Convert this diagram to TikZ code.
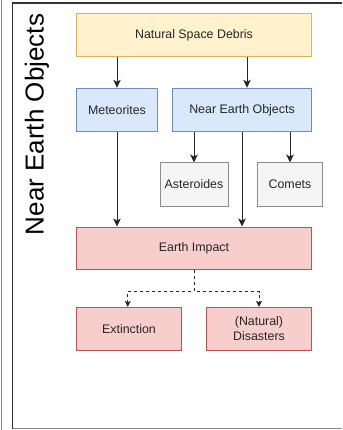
\documentclass[tikz,border=0pt]{standalone}
\usepackage{fontspec}
\setmainfont{Liberation Sans}
\usetikzlibrary{arrows.meta}
\definecolor{ylwF}{HTML}{FFF2CC}\definecolor{ylwD}{HTML}{D6B656}
\definecolor{bluF}{HTML}{DAE8FC}\definecolor{bluD}{HTML}{6C8EBF}
\definecolor{gryF}{HTML}{F5F5F5}\definecolor{gryD}{HTML}{8C8C8C}
\definecolor{redF}{HTML}{F8CECC}\definecolor{redD}{HTML}{B85450}
\definecolor{txt}{HTML}{262626}
\definecolor{frameA}{HTML}{8A8A8A}\definecolor{frameB}{HTML}{333333}
\begin{document}
\begin{tikzpicture}[x=1pt,y=-1pt,
  box/.style={draw, line width=1pt, inner sep=0pt, anchor=center, text=txt,
    font=\fontsize{12.4}{14.5}\selectfont, align=center},
  ybox/.style={box, fill=ylwF, draw=ylwD},
  bbox/.style={box, fill=bluF, draw=bluD},
  gbox/.style={box, fill=gryF, draw=gryD},
  rbox/.style={box, fill=redF, draw=redD},
  arr/.style={draw=black!85, line width=0.9pt, -{Stealth[length=8pt,width=7.5pt,inset=2pt]}},
  darr/.style={draw=black!85, line width=0.9pt, dash pattern=on 3pt off 3pt, -{Stealth[length=6pt,width=6pt,inset=1.5pt]}}]
\useasboundingbox (0,0) rectangle (342,430);
% frame
\draw[frameA, line width=1.6pt] (1.5,0) -- (1.5,430);
\draw[frameB, line width=1.5pt] (342,2.8) -- (12.6,2.8) -- (12.6,428.6);
\draw[frameA, line width=1.5pt] (12.6,428.6) -- (342,428.6);
\node[rotate=90, font=\fontsize{26}{30}\selectfont, text=black, inner sep=0pt] (title) at (37,124.5) {Near Earth Objects};
% boxes
\node[ybox, minimum width=235.4pt, minimum height=42.6pt] (nsd) at (194,35) {Natural Space Debris};
\node[bbox, minimum width=81.4pt, minimum height=43pt] (met) at (117,109.8) {Meteorites};
\node[bbox, minimum width=139.4pt, minimum height=43pt] (neo) at (242,109.8) {Near Earth Objects};
\node[gbox, minimum width=68pt, minimum height=43pt] (ast) at (194,184.5) {Asteroides};
\node[gbox, minimum width=64.6pt, minimum height=43pt] (com) at (290,184.5) {Comets};
\node[rbox, minimum width=235.4pt, minimum height=42.7pt] (imp) at (194,248.4) {Earth Impact};
\node[rbox, minimum width=105.4pt, minimum height=42.7pt] (ext) at (129,328.7) {Extinction};
\node[rbox, minimum width=105.4pt, minimum height=42.7pt] (dis) at (259,328.7) {(Natural)\\Disasters};
% connectors
\coordinate (c1) at (247,0);
\draw[arr] (met.north |- nsd.south) -- (met.north);
\draw[arr] (nsd.south -| c1) -- (neo.north -| c1);
\draw[arr] (ast.north |- neo.south) -- (ast.north);
\draw[arr] (com.north |- neo.south) -- (com.north);
\draw[arr] (met.south) -- (imp.north -| met.south);
\draw[arr] (neo.south) -- (imp.north -| neo.south);
\coordinate (c2) at (127.7,0);
\draw[darr] (imp.south) -- ++(0,21.3) -| (ext.north -| c2);
\draw[darr] (imp.south) -- ++(0,21.3) -| (dis.north);
\end{tikzpicture}
\end{document}
